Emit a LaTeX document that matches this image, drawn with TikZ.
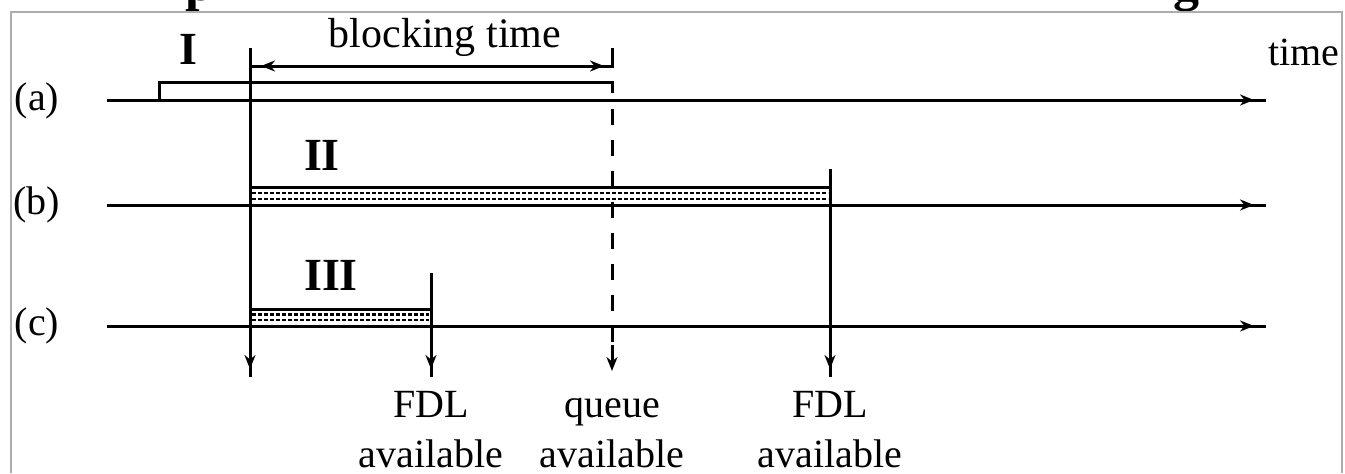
\documentclass[tikz,border=0pt]{standalone}
\usepackage{fontspec}
\setmainfont{Liberation Serif}
\usetikzlibrary{arrows.meta}
\begin{document}
\begin{tikzpicture}[x=0.5pt, y=-0.5pt, line width=1.5pt,
  axis/.style={line width=1.5pt},
  headonly/.style={line width=1.5pt, -{Stealth[length=7pt,width=5.5pt]}},
  lbl/.style={font=\fontsize{20}{24}\selectfont, inner sep=0pt},
  roman/.style={font=\fontsize{23}{27}\selectfont\bfseries, inner sep=0pt},
  heading/.style={font=\fontsize{26}{30}\selectfont\bfseries, anchor=base west, inner sep=0pt},
  hatch/.style={line width=1.3pt, dash pattern=on 2pt off 1pt},
  dashline/.style={line width=1.5pt, dash pattern=on 8pt off 7.5pt},
  framestyle/.style={draw=black!32, line width=1pt}]
\useasboundingbox (0,0) rectangle (1345,473);
\fill[white] (0,0) rectangle (1345,473);

% descenders of the heading line above the frame
\begin{scope}
  \clip (0,0) rectangle (1345,11);
  \node[heading] (hp) at (184,0) {p};
  \node[heading] (hg) at (1172,0) {g};
\end{scope}

% frame
\draw[framestyle] (11,473) -- (11,12) -- (1342,12) -- (1342,473);

% row labels
\node[lbl] (la) at (37,101) {(a)};
\node[lbl] (lb) at (37,205) {(b)};
\node[lbl] (lc) at (37,326) {(c)};

% time axes
\coordinate (a0) at (107,100); \coordinate (a1) at (1266,100);
\coordinate (b0) at (107,205); \coordinate (b1) at (1266,205);
\coordinate (c0) at (107,326); \coordinate (c1) at (1266,326);
\draw[axis] (a0) -- (a1);
\draw[axis] (b0) -- (b1);
\draw[axis] (c0) -- (c1);
\coordinate (ah0) at (1228,100); \coordinate (ah1) at (1254,100);
\coordinate (bh0) at (1228,205); \coordinate (bh1) at (1254,205);
\coordinate (ch0) at (1228,326); \coordinate (ch1) at (1254,326);
\draw[headonly] (ah0) -- (ah1);
\draw[headonly] (bh0) -- (bh1);
\draw[headonly] (ch0) -- (ch1);
\node[lbl, anchor=base east] (tl) at (1341,65) {time};

% interval I
\coordinate (i0) at (159,100); \coordinate (i1) at (159,82);
\coordinate (i2) at (612,82);  \coordinate (i3) at (612,93);
\draw (i0) -- (i1) -- (i2) -- (i3);
\node[roman, anchor=base] (nI) at (188,64) {I};

% blocking time
\coordinate (k0) at (250,66); \coordinate (k1) at (612,66);
\coordinate (kt) at (612,48);
\draw (k0) -- (k1) -- (kt);
\coordinate (kl0) at (285,66); \coordinate (kl1) at (261,66);
\coordinate (kr0) at (578,66); \coordinate (kr1) at (604,66);
\draw[headonly] (kl0) -- (kl1);
\draw[headonly] (kr0) -- (kr1);
\node[lbl, font=\fontsize{21}{25}\selectfont, anchor=base] (bt) at (445,47) {blocking time};

% interval II
\coordinate (p0) at (250,187); \coordinate (p1) at (830,187);
\draw (p0) -- (p1);
\draw[hatch] (252,193) -- (828,193);
\draw[hatch] (252,199) -- (828,199);
\node[roman, anchor=base] (nII) at (322,170) {II};

% interval III
\coordinate (q0) at (250,309); \coordinate (q1) at (431,309);
\draw (q0) -- (q1);
\draw[hatch] (252,314.5) -- (429,314.5);
\draw[hatch] (252,320) -- (429,320);
\node[roman, anchor=base] (nIII) at (331,290) {III};

% event markers
\coordinate (v1t) at (250,48);  \coordinate (v1b) at (250,377);
\coordinate (v2t) at (431,273); \coordinate (v2b) at (431,377);
\coordinate (v3t) at (612,109); \coordinate (v3b) at (612,350);
\coordinate (v4t) at (830,169); \coordinate (v4b) at (830,377);
\draw (v1t) -- (v1b);
\draw (v2t) -- (v2b);
\draw[dashline] (v3t) -- (v3b);
\draw (v4t) -- (v4b);
\coordinate (h1a) at (250,345); \coordinate (h1b) at (250,369);
\coordinate (h2a) at (431,345); \coordinate (h2b) at (431,369);
\coordinate (h3a) at (612,345); \coordinate (h3b) at (612,371);
\coordinate (h4a) at (830,345); \coordinate (h4b) at (830,369);
\draw[headonly] (h1a) -- (h1b);
\draw[headonly] (h2a) -- (h2b);
\draw[headonly] (h3a) -- (h3b);
\draw[headonly] (h4a) -- (h4b);

% event captions
\node[lbl, anchor=base] (f1) at (431,417) {FDL};
\node[lbl, anchor=base] (f1a) at (431,467) {available};
\node[lbl, anchor=base] (qu) at (612,417) {queue};
\node[lbl, anchor=base] (qua) at (612,467) {available};
\node[lbl, anchor=base] (f2) at (830,417) {FDL};
\node[lbl, anchor=base] (f2a) at (830,467) {available};
\end{tikzpicture}
\end{document}
